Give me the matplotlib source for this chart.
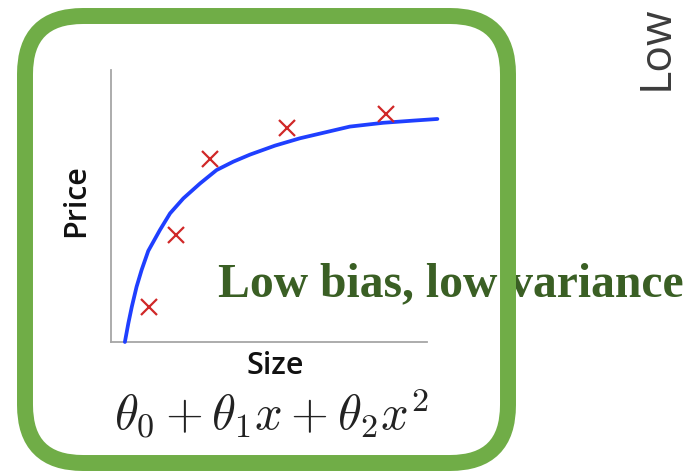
import matplotlib
matplotlib.use("Agg")
from matplotlib import pyplot as plt
from matplotlib.patches import FancyBboxPatch

# curve and samples (arbitrary units, axes span 0..10)
curve_x = [0.44, 0.55, 0.66, 0.81, 0.97, 1.18, 1.55, 1.87, 2.29, 2.82, 3.34,
           3.87, 4.40, 5.19, 5.98, 7.56, 8.62, 9.57, 10.33]
curve_y = [0.00, 0.69, 1.30, 2.03, 2.65, 3.35, 4.12, 4.73, 5.28, 5.83, 6.32,
           6.63, 6.89, 7.22, 7.49, 7.92, 8.06, 8.14, 8.20]
pts_x = [1.20, 2.06, 3.13, 5.57, 8.70]
pts_y = [1.29, 3.93, 6.73, 7.87, 8.38]

title = "Low bias, low variance"
formula = r"$\theta_0 + \theta_1 x + \theta_2 x^2$"

plt.rcParams["mathtext.fontset"] = "cm"

fig = plt.figure(figsize=(6.91, 4.75), dpi=100)

# background layer in pixel coordinates: frame, labels, captions
bg = fig.add_axes([0, 0, 1, 1])
bg.set_xlim(0, 691)
bg.set_ylim(475, 0)
bg.axis("off")
frame = FancyBboxPatch((25 + 58, 16 + 58), 483 - 116, 447 - 116,
                       boxstyle="round,pad=58", fc="none", ec="#70AD47",
                       lw=11.5, zorder=5)
bg.add_patch(frame)
bg.text(218, 296, title, fontsize=34.3, fontweight="bold",
        family="Liberation Serif", color="#3A5F24", va="baseline",
        ha="left", zorder=2)
bg.text(656, 48, "Low", rotation=90, ha="center", va="center",
        fontsize=32, color="#3c3c3c", family="Open Sans")
bg.text(76, 201, "Price", rotation=90, ha="center", va="center",
        fontsize=22, fontweight="semibold", family="Open Sans", color="#111111")
bg.text(275, 366, "Size", ha="center", va="center",
        fontsize=22, fontweight="semibold", family="Open Sans", color="#111111")
bg.text(271, 413, formula, fontsize=35, ha="center", va="center",
        color="#222222")

ax = fig.add_axes([0.1606, 0.28, 0.4573, 0.5726])
ax.plot(curve_x, curve_y, color="#1F3FFF", lw=2.7, clip_on=False, zorder=3,
        solid_joinstyle="round", solid_capstyle="round")
ax.plot(pts_x, pts_y, "x", color="#D02828", ms=11, mew=1.6, zorder=4)
ax.set_xlim(0, 10)
ax.set_ylim(0, 10)
ax.set_xticks([])
ax.set_yticks([])
for s in ["top", "right"]:
    ax.spines[s].set_visible(False)
for s in ["left", "bottom"]:
    ax.spines[s].set_color("#A6A6A6")
    ax.spines[s].set_linewidth(1.3)
ax.patch.set_alpha(0)

fig.savefig("out.png", dpi=100)
